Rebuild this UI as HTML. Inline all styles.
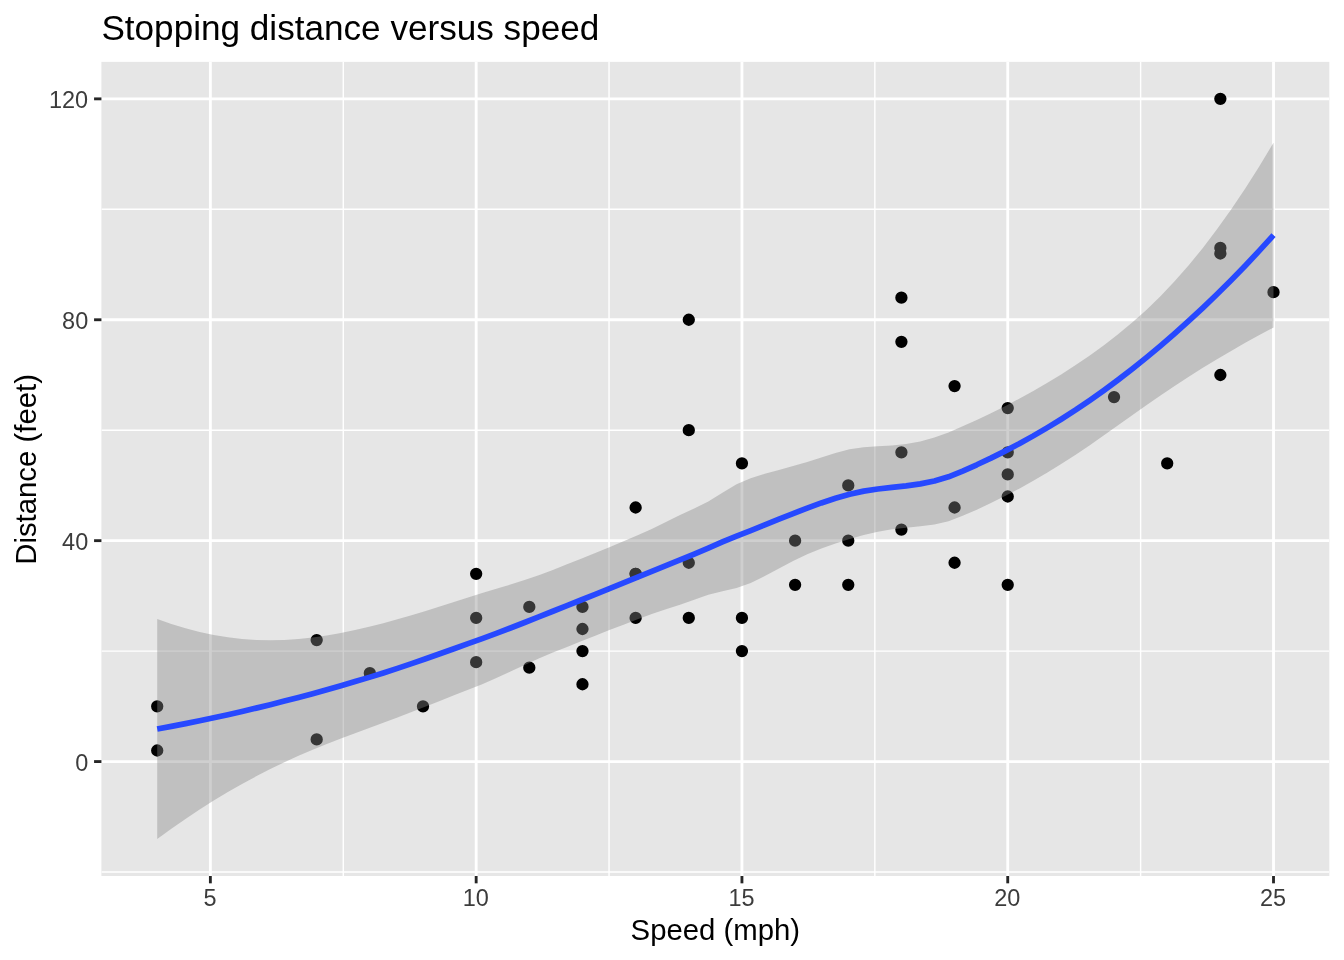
<!DOCTYPE html>
<html><head><meta charset="utf-8"><title>Stopping distance versus speed</title>
<style>html,body{margin:0;padding:0;background:#fff;}body{width:1344px;height:960px;overflow:hidden;font-family:"Liberation Sans",sans-serif;}svg{display:block;will-change:transform;}</style>
</head><body>
<svg width="1344" height="960" viewBox="0 0 1344 960">
<rect x="0" y="0" width="1344" height="960" fill="#FFFFFF"/>
<rect x="101.40" y="61.85" width="1227.93" height="814.15" fill="#E6E6E6"/>
<clipPath id="pc"><rect x="101.40" y="61.85" width="1227.93" height="814.15"/></clipPath>
<g clip-path="url(#pc)">
<line x1="101.40" x2="1329.33" y1="872.01" y2="872.01" stroke="#FFFFFF" stroke-width="1.42"/>
<line x1="101.40" x2="1329.33" y1="651.11" y2="651.11" stroke="#FFFFFF" stroke-width="1.42"/>
<line x1="101.40" x2="1329.33" y1="430.21" y2="430.21" stroke="#FFFFFF" stroke-width="1.42"/>
<line x1="101.40" x2="1329.33" y1="209.31" y2="209.31" stroke="#FFFFFF" stroke-width="1.42"/>
<line y1="61.85" y2="876.00" x1="343.26" x2="343.26" stroke="#FFFFFF" stroke-width="1.42"/>
<line y1="61.85" y2="876.00" x1="609.05" x2="609.05" stroke="#FFFFFF" stroke-width="1.42"/>
<line y1="61.85" y2="876.00" x1="874.84" x2="874.84" stroke="#FFFFFF" stroke-width="1.42"/>
<line y1="61.85" y2="876.00" x1="1140.62" x2="1140.62" stroke="#FFFFFF" stroke-width="1.42"/>
<line x1="101.40" x2="1329.33" y1="761.56" y2="761.56" stroke="#FFFFFF" stroke-width="2.85"/>
<line x1="101.40" x2="1329.33" y1="540.66" y2="540.66" stroke="#FFFFFF" stroke-width="2.85"/>
<line x1="101.40" x2="1329.33" y1="319.76" y2="319.76" stroke="#FFFFFF" stroke-width="2.85"/>
<line x1="101.40" x2="1329.33" y1="98.86" y2="98.86" stroke="#FFFFFF" stroke-width="2.85"/>
<line y1="61.85" y2="876.00" x1="210.37" x2="210.37" stroke="#FFFFFF" stroke-width="2.85"/>
<line y1="61.85" y2="876.00" x1="476.16" x2="476.16" stroke="#FFFFFF" stroke-width="2.85"/>
<line y1="61.85" y2="876.00" x1="741.94" x2="741.94" stroke="#FFFFFF" stroke-width="2.85"/>
<line y1="61.85" y2="876.00" x1="1007.73" x2="1007.73" stroke="#FFFFFF" stroke-width="2.85"/>
<line y1="61.85" y2="876.00" x1="1273.51" x2="1273.51" stroke="#FFFFFF" stroke-width="2.85"/>
<g fill="#000000" stroke="#000000" stroke-width="1.9">
<circle cx="157.21" cy="750.51" r="5.2"/>
<circle cx="157.21" cy="706.33" r="5.2"/>
<circle cx="316.69" cy="739.47" r="5.2"/>
<circle cx="316.69" cy="640.06" r="5.2"/>
<circle cx="369.84" cy="673.20" r="5.2"/>
<circle cx="423.00" cy="706.33" r="5.2"/>
<circle cx="476.16" cy="662.15" r="5.2"/>
<circle cx="476.16" cy="617.97" r="5.2"/>
<circle cx="476.16" cy="573.79" r="5.2"/>
<circle cx="529.31" cy="667.68" r="5.2"/>
<circle cx="529.31" cy="606.93" r="5.2"/>
<circle cx="582.47" cy="684.24" r="5.2"/>
<circle cx="582.47" cy="651.11" r="5.2"/>
<circle cx="582.47" cy="629.02" r="5.2"/>
<circle cx="582.47" cy="606.93" r="5.2"/>
<circle cx="635.63" cy="617.97" r="5.2"/>
<circle cx="635.63" cy="573.79" r="5.2"/>
<circle cx="635.63" cy="573.79" r="5.2"/>
<circle cx="635.63" cy="507.52" r="5.2"/>
<circle cx="688.79" cy="617.97" r="5.2"/>
<circle cx="688.79" cy="562.75" r="5.2"/>
<circle cx="688.79" cy="430.21" r="5.2"/>
<circle cx="688.79" cy="319.76" r="5.2"/>
<circle cx="741.94" cy="651.11" r="5.2"/>
<circle cx="741.94" cy="617.97" r="5.2"/>
<circle cx="741.94" cy="463.34" r="5.2"/>
<circle cx="795.10" cy="584.84" r="5.2"/>
<circle cx="795.10" cy="540.66" r="5.2"/>
<circle cx="848.26" cy="584.84" r="5.2"/>
<circle cx="848.26" cy="540.66" r="5.2"/>
<circle cx="848.26" cy="485.43" r="5.2"/>
<circle cx="901.41" cy="529.61" r="5.2"/>
<circle cx="901.41" cy="452.30" r="5.2"/>
<circle cx="901.41" cy="341.85" r="5.2"/>
<circle cx="901.41" cy="297.67" r="5.2"/>
<circle cx="954.57" cy="562.75" r="5.2"/>
<circle cx="954.57" cy="507.52" r="5.2"/>
<circle cx="954.57" cy="386.03" r="5.2"/>
<circle cx="1007.73" cy="584.84" r="5.2"/>
<circle cx="1007.73" cy="496.48" r="5.2"/>
<circle cx="1007.73" cy="474.39" r="5.2"/>
<circle cx="1007.73" cy="452.30" r="5.2"/>
<circle cx="1007.73" cy="408.12" r="5.2"/>
<circle cx="1114.04" cy="397.07" r="5.2"/>
<circle cx="1167.20" cy="463.34" r="5.2"/>
<circle cx="1220.36" cy="374.98" r="5.2"/>
<circle cx="1220.36" cy="253.49" r="5.2"/>
<circle cx="1220.36" cy="247.96" r="5.2"/>
<circle cx="1220.36" cy="98.86" r="5.2"/>
<circle cx="1273.51" cy="292.15" r="5.2"/>
</g>
<polygon points="157.21,619.03 171.35,623.99 185.48,628.31 199.61,631.96 213.74,634.95 227.87,637.27 242.00,638.93 256.13,639.92 270.26,640.25 284.39,639.94 298.52,639.03 312.65,637.53 326.78,635.50 340.91,632.99 355.04,630.06 369.17,626.77 383.30,623.15 397.43,619.27 411.56,615.18 425.69,610.93 439.82,606.56 453.95,602.11 468.08,597.61 482.21,593.12 496.34,588.82 510.47,584.54 524.60,580.05 538.74,575.20 552.87,569.93 567.00,564.34 581.13,558.66 595.26,553.08 609.39,547.33 623.52,541.25 637.65,535.17 651.78,529.00 665.91,522.12 680.04,514.88 694.17,508.40 708.30,501.41 722.43,492.80 736.56,484.17 750.69,478.25 764.82,473.77 778.95,469.91 793.08,466.08 807.21,461.91 821.34,457.41 835.47,453.01 849.60,449.31 863.73,447.20 877.86,446.28 891.99,445.50 906.13,444.04 920.26,441.44 934.39,437.54 948.52,432.44 962.65,426.36 976.78,419.93 990.91,413.20 1005.04,406.15 1019.17,398.75 1033.30,390.97 1047.43,382.79 1061.56,374.17 1075.69,365.09 1089.82,355.47 1103.95,345.26 1118.08,334.36 1132.21,322.62 1146.34,309.93 1160.47,296.19 1174.60,281.31 1188.73,265.22 1202.86,247.90 1216.99,229.33 1231.12,209.52 1245.25,188.48 1259.38,166.22 1273.51,142.77 1273.51,327.49 1259.38,335.08 1245.25,342.87 1231.12,350.91 1216.99,359.22 1202.86,367.83 1188.73,376.75 1174.60,385.99 1160.47,395.53 1146.34,405.32 1132.21,415.29 1118.08,425.34 1103.95,435.36 1089.82,445.15 1075.69,454.63 1061.56,463.75 1047.43,472.48 1033.30,480.79 1019.17,488.67 1005.04,496.12 990.91,503.11 976.78,509.66 962.65,515.75 948.52,521.15 934.39,524.48 920.26,526.32 906.13,527.67 891.99,529.33 877.86,531.74 863.73,535.00 849.60,539.00 835.47,543.49 821.34,548.45 807.21,554.23 793.08,560.99 778.95,568.48 764.82,576.08 750.69,582.93 736.56,588.06 722.43,591.14 708.30,594.69 694.17,599.75 680.04,604.86 665.91,609.22 651.78,613.93 637.65,619.28 623.52,624.67 609.39,630.06 595.26,635.70 581.13,641.34 567.00,646.88 552.87,652.58 538.74,658.60 524.60,664.95 510.47,671.50 496.34,678.00 482.21,684.15 468.08,689.77 453.95,695.37 439.82,700.98 425.69,706.57 411.56,712.09 397.43,717.52 383.30,722.82 369.17,727.98 355.04,733.14 340.91,738.45 326.78,743.96 312.65,749.73 298.52,755.82 284.39,762.26 270.26,769.08 256.13,776.31 242.00,783.98 227.87,792.07 213.74,800.60 199.61,809.57 185.48,818.96 171.35,828.77 157.21,838.99" fill="#878787" fill-opacity="0.4" stroke="none"/>
<polyline points="157.21,729.01 171.35,726.38 185.48,723.63 199.61,720.76 213.74,717.78 227.87,714.67 242.00,711.45 256.13,708.11 270.26,704.66 284.39,701.10 298.52,697.42 312.65,693.63 326.78,689.73 340.91,685.72 355.04,681.60 369.17,677.37 383.30,672.98 397.43,668.39 411.56,663.64 425.69,658.75 439.82,653.77 453.95,648.74 468.08,643.69 482.21,638.63 496.34,633.41 510.47,628.02 524.60,622.50 538.74,616.90 552.87,611.25 567.00,605.61 581.13,600.00 595.26,594.39 609.39,588.70 623.52,582.96 637.65,577.22 651.78,571.46 665.91,565.67 680.04,559.87 694.17,554.07 708.30,548.05 722.43,541.97 736.56,536.12 750.69,530.59 764.82,524.92 778.95,519.20 793.08,513.53 807.21,508.07 821.34,502.93 835.47,498.25 849.60,494.16 863.73,491.10 877.86,489.01 891.99,487.41 906.13,485.86 920.26,483.88 934.39,481.01 948.52,476.79 962.65,471.05 976.78,464.80 990.91,458.16 1005.04,451.13 1019.17,443.71 1033.30,435.88 1047.43,427.63 1061.56,418.96 1075.69,409.86 1089.82,400.31 1103.95,390.31 1118.08,379.85 1132.21,368.95 1146.34,357.63 1160.47,345.86 1174.60,333.65 1188.73,320.99 1202.86,307.87 1216.99,294.28 1231.12,280.22 1245.25,265.68 1259.38,250.65 1273.51,235.13" fill="none" stroke="#2749FF" stroke-width="5.69" stroke-linejoin="round" stroke-linecap="butt"/>
</g>
<line x1="94.07" x2="101.40" y1="761.56" y2="761.56" stroke="#262626" stroke-width="2.85"/>
<line x1="94.07" x2="101.40" y1="540.66" y2="540.66" stroke="#262626" stroke-width="2.85"/>
<line x1="94.07" x2="101.40" y1="319.76" y2="319.76" stroke="#262626" stroke-width="2.85"/>
<line x1="94.07" x2="101.40" y1="98.86" y2="98.86" stroke="#262626" stroke-width="2.85"/>
<line y1="876.00" y2="883.33" x1="210.37" x2="210.37" stroke="#262626" stroke-width="2.85"/>
<line y1="876.00" y2="883.33" x1="476.16" x2="476.16" stroke="#262626" stroke-width="2.85"/>
<line y1="876.00" y2="883.33" x1="741.94" x2="741.94" stroke="#262626" stroke-width="2.85"/>
<line y1="876.00" y2="883.33" x1="1007.73" x2="1007.73" stroke="#262626" stroke-width="2.85"/>
<line y1="876.00" y2="883.33" x1="1273.51" x2="1273.51" stroke="#262626" stroke-width="2.85"/>
<g font-family="Liberation Sans, sans-serif" font-size="23.47" fill="#3C3C3C">
<text x="88.20" y="770.91" text-anchor="end">0</text>
<text x="88.20" y="550.01" text-anchor="end">40</text>
<text x="88.20" y="329.11" text-anchor="end">80</text>
<text x="88.20" y="108.21" text-anchor="end">120</text>
<text x="209.97" y="905.75" text-anchor="middle">5</text>
<text x="475.76" y="905.75" text-anchor="middle">10</text>
<text x="741.54" y="905.75" text-anchor="middle">15</text>
<text x="1007.33" y="905.75" text-anchor="middle">20</text>
<text x="1273.11" y="905.75" text-anchor="middle">25</text>
</g>
<g font-family="Liberation Sans, sans-serif" font-size="29.33" fill="#000000">
<text x="715.37" y="939.9" text-anchor="middle">Speed (mph)</text>
<text transform="translate(35.6,469.43) rotate(-90)" text-anchor="middle">Distance (feet)</text>
</g>
<text x="101.40" y="39.7" font-family="Liberation Sans, sans-serif" font-size="35.13" fill="#000000">Stopping distance versus speed</text>
</svg>
</body></html>
